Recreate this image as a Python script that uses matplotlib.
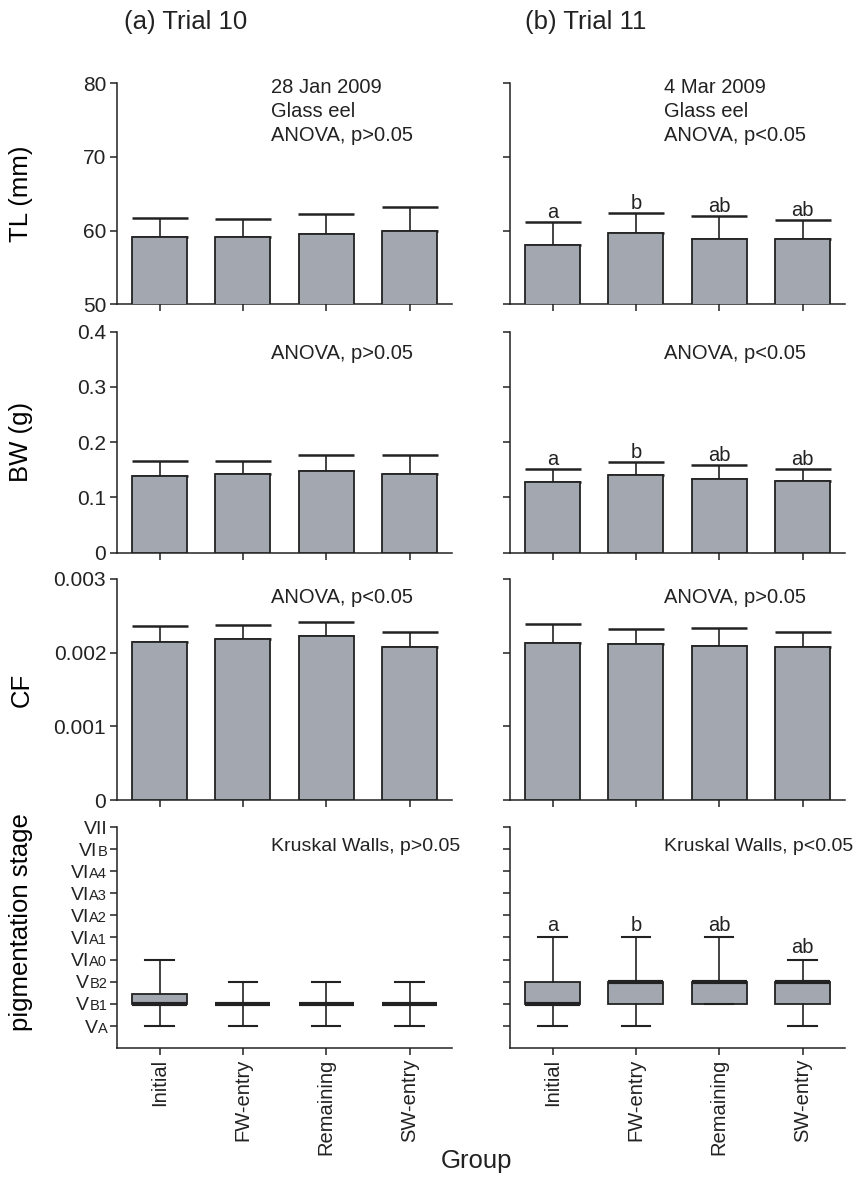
import numpy as np
import matplotlib.pyplot as plt

plt.rcParams['font.family'] = ['Liberation Sans', 'DejaVu Sans']
plt.rcParams['text.color'] = '#222222'
plt.rcParams['axes.edgecolor'] = '#222222'
plt.rcParams['xtick.color'] = '#222222'
plt.rcParams['ytick.color'] = '#222222'

groups = ['Initial', 'FW-entry', 'Remaining', 'SW-entry']

# TL (mm): mean and upper error
tl_a_mean = [59.2, 59.2, 59.6, 60.0]
tl_a_err = [2.55, 2.4, 2.65, 3.25]
tl_b_mean = [58.05, 59.7, 58.9, 58.8]
tl_b_err = [3.1, 2.7, 3.1, 2.6]

# BW (g)
bw_a_mean = [0.139, 0.142, 0.148, 0.143]
bw_a_err = [0.027, 0.024, 0.028, 0.033]
bw_b_mean = [0.128, 0.141, 0.133, 0.130]
bw_b_err = [0.024, 0.023, 0.025, 0.022]

# CF
cf_a_mean = [0.00215, 0.00219, 0.00223, 0.00208]
cf_a_err = [0.00021, 0.00019, 0.00019, 0.00020]
cf_b_mean = [0.00213, 0.00212, 0.00209, 0.00208]
cf_b_err = [0.00026, 0.00020, 0.00025, 0.00020]

# pigmentation stage box plots (index into stage list)
stage_big = ['V', 'V', 'V', 'VI', 'VI', 'VI', 'VI', 'VI', 'VI', 'VII']
stage_small = ['A', 'B1', 'B2', 'A0', 'A1', 'A2', 'A3', 'A4', 'B', '']
pig_a_low = [0, 0, 0, 0]
pig_a_q1 = [1, 1, 1, 1]
pig_a_med = [1, 1, 1, 1]
pig_a_q3 = [1.45, 1, 1, 1]
pig_a_high = [3, 2, 2, 2]
pig_b_low = [0, 0, 1, 0]
pig_b_q1 = [1, 1, 1, 1]
pig_b_med = [1, 2, 2, 2]
pig_b_q3 = [2, 2, 2, 2]
pig_b_high = [4, 4, 4, 3]

letters_b = ['a', 'b', 'ab', 'ab']

notes_a = [['28 Jan 2009', 'Glass eel', 'ANOVA, p>0.05'], ['ANOVA, p>0.05'],
           ['ANOVA, p<0.05'], ['Kruskal Walls, p>0.05']]
notes_b = [['4 Mar 2009', 'Glass eel', 'ANOVA, p<0.05'], ['ANOVA, p<0.05'],
           ['ANOVA, p>0.05'], ['Kruskal Walls, p<0.05']]

bar_color = '#a3a8b0'
dark = '#222222'

W, H = 860, 1178
fig = plt.figure(figsize=(W / 100, H / 100), dpi=100)

lefts = [117 / W, 510 / W]
aw = 335 / W
bottoms_px = [304.3, 552.7, 800, 1048]
ah = 221 / H

x = np.arange(len(groups))


def style_ax(ax):
    for s in ['top', 'right']:
        ax.spines[s].set_visible(False)
    ax.spines['left'].set_linewidth(1.1)
    ax.spines['bottom'].set_linewidth(1.1)
    ax.tick_params(direction='out', length=4.8, width=1.1, labelsize=15, pad=3)
    ax.set_xlim(-0.51, 3.51)
    ax.set_xticks(x)


def bars(ax, mean, err):
    ax.bar(x, mean, width=0.66, color=bar_color, edgecolor=dark, linewidth=1.3,
           zorder=3)
    ax.errorbar(x, mean, yerr=[np.zeros(len(err)), err], fmt='none', ecolor=dark,
                elinewidth=1.2, capsize=20, capthick=1.8, zorder=2)


tl_data = [(tl_a_mean, tl_a_err), (tl_b_mean, tl_b_err)]
bw_data = [(bw_a_mean, bw_a_err), (bw_b_mean, bw_b_err)]
cf_data = [(cf_a_mean, cf_a_err), (cf_b_mean, cf_b_err)]
pig_data = [(pig_a_low, pig_a_q1, pig_a_med, pig_a_q3, pig_a_high),
            (pig_b_low, pig_b_q1, pig_b_med, pig_b_q3, pig_b_high)]
notes = [notes_a, notes_b]

for c in range(2):
    axes = []
    for r in range(4):
        ax = fig.add_axes([lefts[c], 1 - bottoms_px[r] / H, aw, ah])
        style_ax(ax)
        axes.append(ax)
    ax_tl, ax_bw, ax_cf, ax_pig = axes

    bars(ax_tl, *tl_data[c])
    ax_tl.set_ylim(50, 80)
    ax_tl.set_yticks([50, 60, 70, 80])

    bars(ax_bw, *bw_data[c])
    ax_bw.set_ylim(0, 0.4)
    ax_bw.set_yticks([0, 0.1, 0.2, 0.3, 0.4])
    ax_bw.set_yticklabels(['0', '0.1', '0.2', '0.3', '0.4'])

    bars(ax_cf, *cf_data[c])
    ax_cf.set_ylim(0, 0.003)
    ax_cf.set_yticks([0, 0.001, 0.002, 0.003])
    ax_cf.set_yticklabels(['0', '0.001', '0.002', '0.003'])

    lo, q1, med, q3, hi = pig_data[c]
    stats = [dict(whislo=lo[i], q1=q1[i], med=med[i], q3=q3[i], whishi=hi[i])
             for i in range(len(groups))]
    ax_pig.bxp(stats, positions=x, widths=0.66, capwidths=0.34, showfliers=False,
               patch_artist=True,
               boxprops=dict(facecolor=bar_color, edgecolor=dark, linewidth=1.3),
               medianprops=dict(color=dark, linewidth=3),
               whiskerprops=dict(color=dark, linewidth=1.2),
               capprops=dict(color=dark, linewidth=1.5))
    ax_pig.set_ylim(-1, 9)
    ax_pig.set_yticks(range(len(stage_big)))
    ax_pig.set_yticklabels([])
    ax_pig.set_xlim(-0.51, 3.51)
    ax_pig.set_xticks(x)
    ax_pig.set_xticklabels(groups, rotation=90, fontsize=14.5)

    for ax in axes[:3]:
        ax.set_xticklabels([])
    if c == 1:
        for ax in axes:
            ax.set_yticklabels([])

    # annotation text
    note_y = [[0.957, 0.849, 0.739], [0.875], [0.89], [0.89]]
    for r, ax in enumerate(axes):
        fs = 14 if r == 3 else 14.5
        for line, yy in zip(notes[c][r], note_y[r]):
            ax.text(0.46, yy, line, transform=ax.transAxes, fontsize=fs,
                    ha='left', va='baseline')

    # significance letters for trial 11
    if c == 1:
        for ax, (m, e) in [(ax_tl, tl_data[1]), (ax_bw, bw_data[1])]:
            for i in range(len(groups)):
                ax.annotate(letters_b[i], xy=(x[i], m[i] + e[i]), xytext=(0, 3),
                            textcoords='offset points', ha='center',
                            va='baseline', fontsize=14.5)
        for i in range(len(groups)):
            ax_pig.annotate(letters_b[i], xy=(x[i], hi[i]), xytext=(0, 5),
                            textcoords='offset points', ha='center',
                            va='baseline', fontsize=14.5)

    if c == 0:
        ytr = ax_pig.get_yaxis_transform()
        for i in range(len(stage_big)):
            if stage_small[i]:
                st = ax_pig.annotate(stage_small[i], xy=(0, i), xycoords=ytr,
                                     xytext=(-7, -4.8), textcoords='offset points',
                                     ha='right', va='baseline', fontsize=10.5)
                ax_pig.annotate(stage_big[i], xy=(0, i), xycoords=(st, ytr),
                                xytext=(0, -4.8), textcoords='offset points',
                                ha='right', va='baseline', fontsize=14)
            else:
                ax_pig.annotate(stage_big[i], xy=(0, i), xycoords=ytr,
                                xytext=(-7, -4.8), textcoords='offset points',
                                ha='right', va='baseline', fontsize=14)

        ylabels = ['TL (mm)', 'BW (g)', 'CF', 'pigmentation stage']
        label_y = [0.5, 0.5, 0.5, 0.57]
        for ax, lab, ly in zip(axes, ylabels, label_y):
            ax.set_ylabel(lab, fontsize=18.5)
            ax.yaxis.set_label_coords(-0.25, ly)

fig.text(124 / W, 1 - 29.3 / H, '(a) Trial 10', fontsize=18.5, va='baseline')
fig.text(525 / W, 1 - 29.3 / H, '(b) Trial 11', fontsize=18.5, va='baseline')
fig.text(477 / W, 1 - 1168 / H, 'Group', fontsize=18.5, ha='center', va='baseline')

fig.savefig('out.png', dpi=100)
